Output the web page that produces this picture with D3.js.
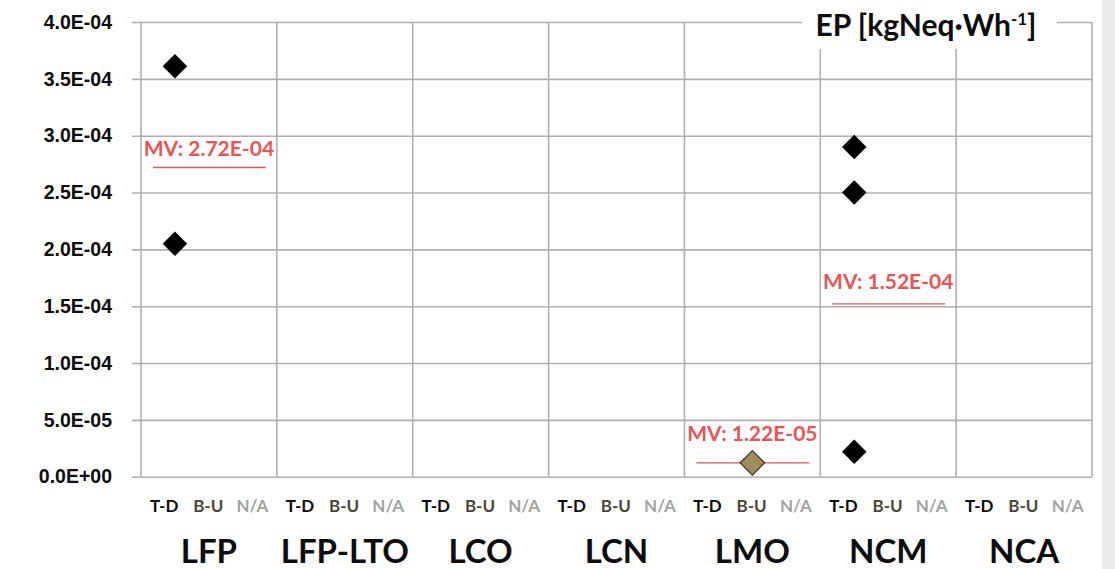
<!DOCTYPE html>
<html>
<head>
<meta charset="utf-8">
<script src="https://cdn.jsdelivr.net/npm/d3@7"></script>
<style>
  body { margin: 0; background: #fff; }
  svg { display: block; font-family: Lato, "Open Sans", sans-serif; }
</style>
</head>
<body>
<div class="chart"></div>
<script>
// categories and sub-groups
const categories = ["LFP", "LFP-LTO", "LCO", "LCN", "LMO", "NCM", "NCA"];
const methods = ["T-D", "B-U", "N/A"];

// y axis ticks
const yTicks = [0, 5e-5, 1e-4, 1.5e-4, 2e-4, 2.5e-4, 3e-4, 3.5e-4, 4e-4];
const yTickLabels = ["0.0E+00", "5.0E-05", "1.0E-04", "1.5E-04", "2.0E-04", "2.5E-04", "3.0E-04", "3.5E-04", "4.0E-04"];

// individual results
const pointCategories = ["LFP", "LFP", "NCM", "NCM", "NCM", "LMO"];
const pointMethods = ["T-D", "T-D", "T-D", "T-D", "T-D", "B-U"];
const pointValues = [3.61e-4, 2.05e-4, 2.90e-4, 2.50e-4, 2.2e-5, 1.22e-5];

// mean values
const mvCategories = ["LFP", "NCM", "LMO"];
const mvValues = [2.72e-4, 1.52e-4, 1.22e-5];
const mvLabels = ["MV: 2.72E-04", "MV: 1.52E-04", "MV: 1.22E-05"];

const title = "EP [kgNeq·Wh";

const width = 1115, height = 569;
const plot = { left: 141, right: 1092, top: 22, bottom: 476.7 };
const gridColor = "#b0b0b0";
const mvColor = "#ec5252";
const methodColors = { "T-D": "#0d0d0d", "B-U": "#4a4738", "N/A": "#a3a3a3" };
const mvGap = { LFP: 12, NCM: 15, LMO: 22 };

const svg = d3.select(".chart").append("svg")
    .attr("width", width)
    .attr("height", height);

// grey strip on the right edge
svg.append("rect")
    .attr("x", 1102).attr("y", 0)
    .attr("width", width - 1102).attr("height", height)
    .attr("fill", "#ebebe9");

const x = d3.scaleBand().domain(categories).range([plot.left, plot.right]);
const y = d3.scaleLinear().domain([0, 4e-4]).range([plot.bottom, plot.top]);
const sub = d3.scalePoint().domain(methods).range([0, x.bandwidth()]).padding(1);
const subLabel = d3.scalePoint().domain(methods)
    .range([0.17 * x.bandwidth(), 0.82 * x.bandwidth()]);

// horizontal grid + y axis labels
const yAxis = d3.axisLeft(y)
    .tickValues(yTicks)
    .tickFormat((d, i) => yTickLabels[i])
    .tickSize(-(plot.right - plot.left + 9));

const gy = svg.append("g")
    .attr("transform", "translate(" + (plot.left - 9) + ",0)")
    .call(yAxis);
gy.select(".domain").remove();
gy.selectAll(".tick line")
    .attr("stroke", gridColor)
    .attr("stroke-width", 1.6);
gy.selectAll(".tick text")
    .attr("font-size", 19.5)
    .attr("font-weight", "bold")
    .attr("fill", "#0d0d0d")
    .attr("x", -20);

// vertical separators
const bounds = categories.map(c => x(c)).concat([plot.right]);
svg.append("g").selectAll("line")
    .data(bounds)
    .enter()
    .append("line")
    .attr("x1", d => d).attr("x2", d => d)
    .attr("y1", plot.top).attr("y2", plot.bottom)
    .attr("stroke", gridColor)
    .attr("stroke-width", 1.6);

// title box
svg.append("rect")
    .attr("x", 802).attr("y", 0)
    .attr("width", 255).attr("height", 49)
    .attr("fill", "#fff");

const t = svg.append("text")
    .attr("x", 926).attr("y", 36)
    .attr("text-anchor", "middle")
    .attr("font-size", 30)
    .attr("font-weight", "bold")
    .attr("fill", "#0d0d0d");
t.append("tspan").text(title);
t.append("tspan").attr("font-size", 17).attr("dy", -11).text("-1");
t.append("tspan").attr("dy", 11).text("]");

// mean value lines
mvCategories.forEach((c, i) => {
    const yy = y(mvValues[i]);
    svg.append("line")
        .attr("x1", x(c) + 12).attr("x2", x(c) + x.bandwidth() - 11)
        .attr("y1", yy).attr("y2", yy)
        .attr("stroke", mvColor)
        .attr("stroke-width", 1.4);
    svg.append("text")
        .attr("x", x(c) + x.bandwidth() / 2)
        .attr("y", yy - mvGap[c])
        .attr("text-anchor", "middle")
        .attr("font-size", 21)
        .attr("font-weight", "bold")
        .attr("fill", mvColor)
        .text(mvLabels[i]);
});

// diamonds
const diamond = d3.symbol().type(d3.symbolSquare).size(300);
svg.append("g").selectAll("path")
    .data(pointValues)
    .enter()
    .append("path")
    .attr("d", diamond)
    .attr("transform", (d, i) => "translate(" + (x(pointCategories[i]) + sub(pointMethods[i])) + "," + y(d) + ") rotate(45)")
    .attr("fill", (d, i) => pointMethods[i] === "B-U" ? "#a08c5a" : "#000")
    .attr("stroke", (d, i) => pointMethods[i] === "B-U" ? "#3b3b33" : "#000")
    .attr("stroke-width", (d, i) => pointMethods[i] === "B-U" ? 1.3 : 0);

// method labels
categories.forEach(c => {
    svg.append("g").selectAll("text")
        .data(methods)
        .enter()
        .append("text")
        .attr("x", m => x(c) + subLabel(m))
        .attr("y", 512)
        .attr("text-anchor", "middle")
        .attr("font-size", 17)
        .attr("font-weight", "bold")
        .attr("fill", m => methodColors[m])
        .text(m => m);
});

// category labels
svg.append("g").selectAll("text")
    .data(categories)
    .enter()
    .append("text")
    .attr("x", c => x(c) + x.bandwidth() / 2)
    .attr("y", 563)
    .attr("text-anchor", "middle")
    .attr("font-size", 33)
    .attr("font-weight", "bold")
    .attr("fill", "#0d0d0d")
    .text(c => c);
</script>
</body>
</html>
